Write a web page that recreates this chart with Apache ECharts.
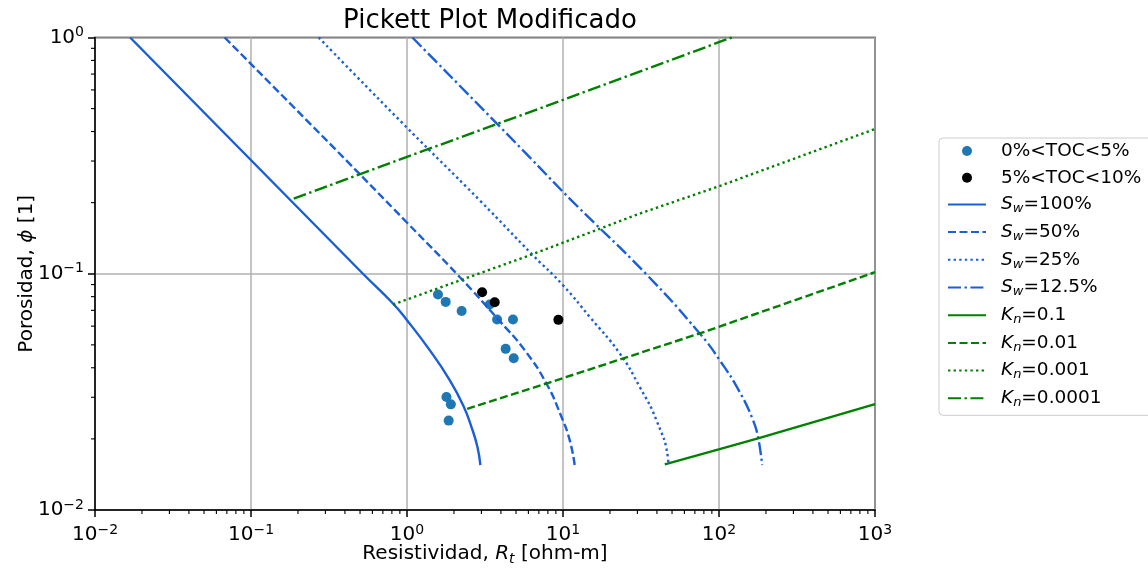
<!DOCTYPE html>
<html><head><meta charset="utf-8">
<script src="https://cdn.jsdelivr.net/npm/echarts@6/dist/echarts.min.js"></script>
<style>html,body{margin:0;padding:0;background:#fff}#c{width:1148px;height:569px}</style>
</head><body><div id="c"></div>
<script>
// ---------- data ----------
const titleText = 'Pickett Plot Modificado';
const xLimits = [0.01, 1000];
const yLimits = [0.01, 1];

const toc05Rt  = [1.58, 1.77, 2.24, 3.39, 3.78, 4.78, 4.29, 4.83, 1.79, 1.91, 1.85];
const toc05Phi = [0.0817, 0.0760, 0.0696, 0.0741, 0.0640, 0.0640, 0.0481, 0.0439, 0.0301, 0.0280, 0.0239];
const toc510Rt  = [3.03, 3.65, 9.34];
const toc510Phi = [0.0835, 0.0758, 0.0638];

const sw100Rt  = [0.0168, 0.522, 0.813, 1.0, 1.398, 1.878, 2.286, 2.587, 2.826, 2.954];
const sw100Phi = [1.0, 0.1, 0.0748, 0.0636, 0.0475, 0.0355, 0.0278, 0.0225, 0.01852, 0.0155];
const sw50Rt   = [0.0678, 0.3526, 0.991, 2.176, 3.93, 5.68, 7.83, 9.77, 11.04, 11.88];
const sw50Phi  = [1.0, 0.3329, 0.1656, 0.0969, 0.063, 0.0475, 0.0343, 0.0248, 0.01977, 0.0155];
const sw25Rt   = [0.2716, 0.991, 2.924, 6.42, 10.0, 14.83, 23.1, 31.0, 39.7, 47.1, 47.4];
const sw25Phi  = [1.0, 0.4175, 0.2046, 0.1197, 0.0894, 0.0657, 0.046, 0.0332, 0.024, 0.01654, 0.0155];
const sw125Rt  = [1.083, 5.54, 11.32, 34.2, 75.2, 101, 135.7, 165.2, 177.8, 189];
const sw125Phi = [1.0, 0.3329, 0.2046, 0.0995, 0.0559, 0.0431, 0.0316, 0.024, 0.0204, 0.0155];

const kn01Rt    = [44.9, 99.6, 177.8, 1000];
const kn01Phi   = [0.0156, 0.01806, 0.0201, 0.02806];
const kn001Rt   = [2.43, 7.83, 75.2, 99.6, 1000];
const kn001Phi  = [0.0268, 0.0343, 0.0559, 0.0596, 0.1015];
const kn0001Rt  = [0.813, 6.12, 31.0, 99.6, 1000];
const kn0001Phi = [0.0741, 0.1197, 0.1797, 0.2344, 0.410];
const kn00001Rt  = [0.1878, 0.991, 9.53, 120.6];
const kn00001Phi = [0.2079, 0.3118, 0.5378, 1.0];

const seriesNames = ['0%<TOC<5%', '5%<TOC<10%',
  'S_w=100%', 'S_w=50%', 'S_w=25%', 'S_w=12.5%',
  'K_n=0.1', 'K_n=0.01', 'K_n=0.001', 'K_n=0.0001'];

// ---------- styling ----------
const FONT = 'DejaVu Sans';
const SW_COLOR = '#1a5fd6';
const KN_COLOR = '#008000';
const LW = 2.4;
const DASHED = [8, 3.5];
const DOTTED = [2.4, 3.2];
const DASHDOT = [13, 3.5, 2.4, 3.5];

function zip(a, b) { return a.map((v, i) => [v, b[i]]); }

function lineSeries(name, xs, ys, color, type, smooth) {
  return {
    name: name, type: 'line', data: zip(xs, ys), symbol: 'none', showSymbol: false,
    smooth: smooth ? 0.5 : false,
    lineStyle: { color: color, width: LW, type: type },
    itemStyle: { color: color },
    animation: false, z: 3
  };
}

const chart = echarts.init(document.getElementById('c'), null, { renderer: 'canvas' });

function legendFmt(name) {
  let m = name.match(/^([SK])_([wn])=(.*)$/);
  if (m) return '{i|' + m[1] + '}{sub|' + m[2] + '}{t|=' + m[3] + '}';
  return '{t|' + name + '}';
}
function expLabel(v) {
  const e = Math.round(Math.log10(v));
  return '{b|10}{sup|' + (e < 0 ? '\u2212' + (-e) : e) + '}';
}
const supRich = {
  b: { fontFamily: FONT, fontSize: 20, color: '#000', lineHeight: 24 },
  sup: { fontFamily: FONT, fontSize: 14, color: '#000', padding: [0, 0, 10, 0] }
};

const legendData = seriesNames.map((n, i) => i < 2
  ? { name: n }
  : { name: n, itemStyle: { opacity: 0 } });

const option = {
  backgroundColor: '#fff',
  animation: false,
  title: {
    text: titleText, left: 485, top: 3, textAlign: 'center',
    textStyle: { fontFamily: FONT, fontSize: 26, fontWeight: 'normal', color: '#000' }
  },
  grid: {
    left: 95, top: 37.5, width: 780, height: 472.5,
    outerBoundsMode: 'none', containLabel: false,
    show: true, borderColor: '#000', borderWidth: 1.5, backgroundColor: 'transparent'
  },
  legend: {
    orient: 'vertical', left: 939, top: 138,
    padding: [3, 40, 6, 8],
    itemWidth: 38, itemHeight: 10, itemGap: 6.7,
    backgroundColor: 'rgba(255,255,255,0.85)',
    borderColor: '#cccccc', borderWidth: 1, borderRadius: 4,
    data: legendData,
    formatter: legendFmt,
    textStyle: {
      fontFamily: FONT, fontSize: 18.5, color: '#000', lineHeight: 20,
      padding: [0, 0, 0, 10],
      rich: {
        t: { fontFamily: FONT, fontSize: 18.5, color: '#000', lineHeight: 20 },
        i: { fontFamily: FONT, fontSize: 18.5, fontStyle: 'italic', color: '#000', lineHeight: 20 },
        sub: { fontFamily: FONT, fontSize: 13, fontStyle: 'italic', color: '#000', padding: [9, 0, 0, 0] }
      }
    }
  },
  xAxis: {
    type: 'log', logBase: 10, min: xLimits[0], max: xLimits[1],
    name: 'Resistividad, {i|R}{sub|t} [ohm-m]',
    nameLocation: 'middle', nameGap: 32, nameMoveOverlap: false,
    nameTextStyle: {
      fontFamily: FONT, fontSize: 20, color: '#000',
      rich: {
        i: { fontFamily: FONT, fontSize: 20, fontStyle: 'italic', color: '#000' },
        sub: { fontFamily: FONT, fontSize: 14, fontStyle: 'italic', color: '#000', padding: [10, 0, 0, 0] }
      }
    },
    axisLine: { show: true, lineStyle: { color: '#000', width: 1.5 } },
    axisTick: { show: true, length: 7, lineStyle: { color: '#000', width: 1.5 } },
    axisLabel: { margin: 13, formatter: expLabel, rich: supRich },
    splitLine: { show: true, lineStyle: { color: '#b0b0b0', width: 1.5 } }
  },
  yAxis: {
    type: 'log', logBase: 10, min: yLimits[0], max: yLimits[1],
    name: 'Porosidad, {i|\u03d5} [1]',
    nameLocation: 'middle', nameGap: 58, nameRotate: 90, nameMoveOverlap: false,
    nameTextStyle: {
      fontFamily: FONT, fontSize: 20, color: '#000',
      rich: { i: { fontFamily: FONT, fontSize: 20, fontStyle: 'italic', color: '#000' } }
    },
    axisLine: { show: true, lineStyle: { color: '#000', width: 1.5 } },
    axisTick: { show: true, length: 7, lineStyle: { color: '#000', width: 1.5 } },
    axisLabel: { margin: 11, formatter: expLabel, rich: supRich },
    splitLine: { show: true, lineStyle: { color: '#b0b0b0', width: 1.5 } }
  },
  series: [
    { name: seriesNames[0], type: 'scatter', data: zip(toc05Rt, toc05Phi), symbol: 'circle', symbolSize: 10,
      itemStyle: { color: '#1f77b4', opacity: 1 }, z: 2 },
    { name: seriesNames[1], type: 'scatter', data: zip(toc510Rt, toc510Phi), symbol: 'circle', symbolSize: 10,
      itemStyle: { color: '#000000', opacity: 1 }, z: 2 },
    lineSeries(seriesNames[2], sw100Rt, sw100Phi, SW_COLOR, 'solid', true),
    lineSeries(seriesNames[3], sw50Rt, sw50Phi, SW_COLOR, DASHED, true),
    lineSeries(seriesNames[4], sw25Rt, sw25Phi, SW_COLOR, DOTTED, true),
    lineSeries(seriesNames[5], sw125Rt, sw125Phi, SW_COLOR, DASHDOT, true),
    lineSeries(seriesNames[6], kn01Rt, kn01Phi, KN_COLOR, 'solid', false),
    lineSeries(seriesNames[7], kn001Rt, kn001Phi, KN_COLOR, DASHED, false),
    lineSeries(seriesNames[8], kn0001Rt, kn0001Phi, KN_COLOR, DOTTED, false),
    lineSeries(seriesNames[9], kn00001Rt, kn00001Phi, KN_COLOR, DASHDOT, false)
  ]
};
chart.setOption(option);

// minor log ticks (2..9 x 10^k) on bottom and left axes
function addMinorTicks() {
  const els = [];
  const yb = chart.convertToPixel({ yAxisIndex: 0 }, yLimits[0]);
  const xl = chart.convertToPixel({ xAxisIndex: 0 }, xLimits[0]);
  for (let e = Math.round(Math.log10(xLimits[0])); e < Math.round(Math.log10(xLimits[1])); e++) {
    for (let k = 2; k <= 9; k++) {
      const px = chart.convertToPixel({ xAxisIndex: 0 }, k * Math.pow(10, e));
      els.push({ type: 'line', silent: true, z: 10,
        shape: { x1: px, y1: yb, x2: px, y2: yb + 4 }, style: { stroke: '#000', lineWidth: 1.1 } });
    }
  }
  for (let e = Math.round(Math.log10(yLimits[0])); e < Math.round(Math.log10(yLimits[1])); e++) {
    for (let k = 2; k <= 9; k++) {
      const py = chart.convertToPixel({ yAxisIndex: 0 }, k * Math.pow(10, e));
      els.push({ type: 'line', silent: true, z: 10,
        shape: { x1: xl - 4, y1: py, x2: xl, y2: py }, style: { stroke: '#000', lineWidth: 1.1 } });
    }
  }
  chart.setOption({ graphic: els });
}
addMinorTicks();
</script>
</body></html>
